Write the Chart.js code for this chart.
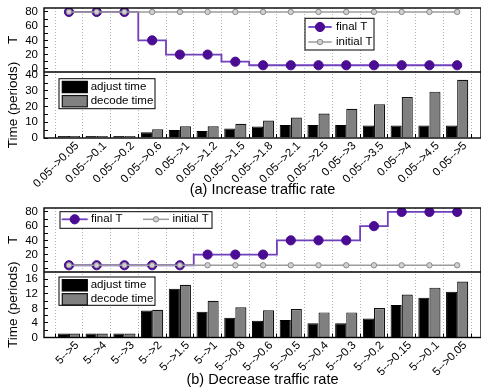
<!DOCTYPE html>
<html>
<head>
<meta charset="utf-8">
<script src="https://cdn.jsdelivr.net/npm/chart.js@4/dist/chart.umd.min.js"></script>
<style>
  html, body { margin: 0; padding: 0; background: #fff; }
  #figure { position: relative; width: 481px; height: 388px; }
  #figure canvas { position: absolute; left: 0; top: 0; }
</style>
</head>
<body>
<div id="figure">
  <canvas id="increase" width="481" height="388"></canvas>
  <canvas id="decrease" width="481" height="388"></canvas>
</div>
<script>
// ---- (a) increasing traffic rate ----
const incCategories = ['0.05-->0.05', '0.05-->0.1', '0.05-->0.2', '0.05-->0.6', '0.05-->1', '0.05-->1.2', '0.05-->1.5',
  '0.05-->1.8', '0.05-->2.1', '0.05-->2.5', '0.05-->3', '0.05-->3.5', '0.05-->4', '0.05-->4.5', '0.05-->5'];
const incFinalT   = [80, 80, 80, 40, 20, 20, 10, 5, 5, 5, 5, 5, 5, 5, 5];
const incInitialT = [80, 80, 80, 80, 80, 80, 80, 80, 80, 80, 80, 80, 80, 80, 80];
const incAdjust   = [1.3, 1.3, 1.3, 3.6, 5.1, 4.5, 6.0, 7.3, 8.3, 8.3, 8.3, 7.9, 7.9, 7.9, 7.9];
const incDecode   = [1.3, 1.3, 1.3, 5.6, 7.5, 7.5, 9.0, 11.1, 13.0, 15.6, 18.6, 21.4, 26.1, 29.5, 37.0];

// ---- (b) decreasing traffic rate ----
const decCategories = ['5-->5', '5-->4', '5-->3', '5-->2', '5-->1.5', '5-->1', '5-->0.8', '5-->0.6', '5-->0.5',
  '5-->0.4', '5-->0.3', '5-->0.2', '5-->0.15', '5-->0.1', '5-->0.05'];
const decFinalT   = [5, 5, 5, 5, 5, 20, 20, 20, 40, 40, 40, 60, 80, 80, 80];
const decInitialT = [5, 5, 5, 5, 5, 5, 5, 5, 5, 5, 5, 5, 5, 5, 5];
const decAdjust   = [1.1, 1.1, 1.1, 7.4, 13.4, 7.1, 5.4, 4.6, 4.8, 3.9, 3.9, 5.2, 8.9, 10.9, 12.6];
const decDecode   = [1.1, 1.1, 1.1, 7.6, 14.5, 10.1, 8.3, 7.5, 7.8, 6.9, 6.9, 8.1, 11.8, 13.7, 15.4];

// ---- tick marks and labelled ticks ----
const tTicks         = [0, 10, 20, 30, 40, 50, 60, 70, 80];
const tTickLabels    = [0, 20, 40, 60, 80];
const incTimeTicks   = [0, 5, 10, 15, 20, 25, 30, 35, 40];
const incTimeLabels  = [0, 10, 20, 30, 40];
const decTimeTicks   = [0, 2, 4, 6, 8, 10, 12, 14, 16];
const decTimeLabels  = [0, 4, 8, 12, 16];

const FONT = '"Liberation Sans", Arial, Helvetica, sans-serif';
Chart.defaults.font.family = FONT;
Chart.defaults.color = '#000';

// Frame around both stacked panels plus the divider between them
const panelFrame = {
  id: 'panelFrame',
  afterDraw(chart) {
    const { ctx, chartArea: a, scales } = chart;
    ctx.save();
    ctx.strokeStyle = '#000';
    ctx.lineWidth = 1.4;
    ctx.strokeRect(a.left, a.top, a.right - a.left, a.bottom - a.top);
    ctx.beginPath();
    ctx.moveTo(a.left, scales.yTime.top);
    ctx.lineTo(a.right, scales.yTime.top);
    ctx.stroke();
    ctx.restore();
  }
};

// One boxed key per panel, placed inside that panel
const panelKeys = {
  id: 'panelKeys',
  afterDraw(chart, args, opts) {
    const { ctx, chartArea } = chart;
    for (const box of opts.boxes) {
      const scale = chart.scales[box.scaleID];
      const x0 = chartArea.left + box.left;
      const y0 = scale.top + box.top;
      ctx.save();
      ctx.fillStyle = '#fff';
      ctx.fillRect(x0, y0, box.width, box.height);
      ctx.strokeStyle = '#000';
      ctx.lineWidth = 1;
      ctx.strokeRect(x0, y0, box.width, box.height);
      ctx.font = '11.5px ' + FONT;
      ctx.textBaseline = 'middle';
      ctx.textAlign = 'left';
      for (const item of box.items) {
        const ds = chart.data.datasets[item.dataset];
        const ix = x0 + item.dx;
        const iy = y0 + item.dy;
        if (ds.type === 'line') {
          ctx.strokeStyle = ds.borderColor;
          ctx.lineWidth = ds.borderWidth;
          ctx.beginPath();
          ctx.moveTo(ix, iy);
          ctx.lineTo(ix + box.sample, iy);
          ctx.stroke();
          ctx.beginPath();
          ctx.arc(ix + box.sample / 2, iy, ds.pointRadius, 0, Math.PI * 2);
          ctx.fillStyle = ds.pointBackgroundColor;
          ctx.fill();
          ctx.lineWidth = ds.pointBorderWidth;
          ctx.strokeStyle = ds.pointBorderColor;
          ctx.stroke();
        } else {
          ctx.fillStyle = ds.backgroundColor;
          ctx.fillRect(ix, iy - box.swatch / 2, box.sample, box.swatch);
          ctx.strokeStyle = ds.borderColor;
          ctx.lineWidth = 1.2;
          ctx.strokeRect(ix, iy - box.swatch / 2, box.sample, box.swatch);
        }
        ctx.fillStyle = '#000';
        ctx.fillText(ds.label, ix + box.sample + box.gap, iy);
      }
      ctx.restore();
    }
  }
};

const points = (values) => values.map((v, i) => ({ x: i, y: v }));

function buildChart(id, s) {
  return new Chart(document.getElementById(id), {
    type: 'line',
    data: {
      datasets: [
        {
          type: 'line', label: 'final T', data: points(s.finalT), yAxisID: 'yT',
          stepped: 'middle', borderColor: '#7040bd', borderWidth: 1.8,
          pointRadius: 4.6, pointBackgroundColor: '#4a0c92', pointBorderColor: '#4a0c92',
          pointBorderWidth: 1, order: 2
        },
        {
          type: 'line', label: 'initial T', data: points(s.initialT), yAxisID: 'yT',
          borderColor: '#9c9c9c', borderWidth: 1.5,
          pointRadius: 2.7, pointBackgroundColor: '#d0d0d0', pointBorderColor: '#8a8a8a',
          pointBorderWidth: 1, order: 1
        },
        {
          type: 'bar', label: 'adjust time', data: points(s.adjust), yAxisID: 'yTime',
          backgroundColor: '#000', borderColor: '#000', borderWidth: 1,
          categoryPercentage: 0.8, barPercentage: 1, order: 3
        },
        {
          type: 'bar', label: 'decode time', data: points(s.decode), yAxisID: 'yTime',
          backgroundColor: '#808080', borderColor: '#111', borderWidth: 1.2,
          categoryPercentage: 0.8, barPercentage: 1, order: 3
        }
      ]
    },
    options: {
      responsive: false,
      animation: false,
      devicePixelRatio: 1,
      events: [],
      layout: { autoPadding: false, padding: { top: s.padTop, bottom: s.padBottom, left: 0, right: 0 } },
      scales: {
        x: {
          type: 'linear', position: 'bottom', min: -0.9, max: 14.86, offset: false,
          afterBuildTicks: (sc) => { sc.ticks = s.cats.map((_, i) => ({ value: i })); },
          afterFit: (sc) => { sc.height = s.xHeight; sc.paddingLeft = 0; sc.paddingRight = 0; },
          ticks: {
            autoSkip: false, minRotation: 45, maxRotation: 45,
            padding: 5, labelOffset: 8,
            font: { size: 11.5 }, color: '#000',
            callback: (v) => s.cats[v]
          },
          grid: {
            drawOnChartArea: true, color: '#b4b4b4', lineWidth: 1,
            drawTicks: true, tickLength: -4, tickColor: '#000', tickWidth: 1, tickBorderDash: []
          },
          border: { display: false, dash: [1, 2] },
          title: {
            display: true, text: s.title, color: '#000',
            font: { size: 14.5, lineHeight: 1 }, padding: { top: 0, bottom: 0 }
          }
        },
        yTime: {
          type: 'linear', position: 'left', stack: 'panels', stackWeight: s.timeWeight,
          min: 0, max: s.timeMax,
          afterBuildTicks: (sc) => { sc.ticks = s.timeTicks.map((v) => ({ value: v })); },
          afterFit: (sc) => { sc.width = 44; sc.paddingTop = 0; sc.paddingBottom = 0; },
          ticks: {
            autoSkip: false, padding: 10, font: { size: 11.5 }, color: '#000',
            callback: (v) => (s.timeLabels.includes(v) ? String(v) : '')
          },
          grid: { drawOnChartArea: false, drawTicks: true, tickLength: -4, tickColor: '#000' },
          border: { display: false },
          title: {
            display: true, text: 'Time (periods)', color: '#000',
            font: { size: 13.5 }, padding: { top: 5, bottom: 0 }
          }
        },
        yT: {
          type: 'linear', position: 'left', stack: 'panels', stackWeight: 64,
          min: -4.5, max: 85.5,
          afterBuildTicks: (sc) => { sc.ticks = tTicks.map((v) => ({ value: v })); },
          afterFit: (sc) => { sc.width = 44; sc.paddingTop = 0; sc.paddingBottom = 0; },
          ticks: {
            autoSkip: false, padding: 10, font: { size: 11.5 }, color: '#000',
            callback: (v) => (tTickLabels.includes(v) ? String(v) : '')
          },
          grid: { drawOnChartArea: false, drawTicks: true, tickLength: -4, tickColor: '#000' },
          border: { display: false },
          title: {
            display: true, text: 'T', color: '#000',
            font: { size: 13.5 }, padding: { top: 5, bottom: 0 }
          }
        }
      },
      plugins: {
        legend: { display: false },
        tooltip: { enabled: false },
        panelKeys: { boxes: s.keys }
      }
    },
    plugins: [panelFrame, panelKeys]
  });
}

buildChart('increase', {
  cats: incCategories, finalT: incFinalT, initialT: incInitialT,
  adjust: incAdjust, decode: incDecode,
  timeTicks: incTimeTicks, timeLabels: incTimeLabels, timeMax: 42, timeWeight: 66,
  title: '(a) Increase traffic rate',
  padTop: 8, padBottom: 190.75, xHeight: 59.25,
  keys: [
    { scaleID: 'yT', left: 261, top: 10.3, width: 69, height: 31.7, sample: 23.4, gap: 4.3,
      items: [{ dataset: 0, dx: 3.3, dy: 8.7 }, { dataset: 1, dx: 3.3, dy: 23.7 }] },
    { scaleID: 'yTime', left: 15, top: 6.7, width: 96, height: 30, sample: 25, swatch: 11.3, gap: 3.4,
      items: [{ dataset: 2, dx: 3.3, dy: 8.3 }, { dataset: 3, dx: 3.3, dy: 22.5 }] }
  ]
});

buildChart('decrease', {
  cats: decCategories, finalT: decFinalT, initialT: decInitialT,
  adjust: decAdjust, decode: decDecode,
  timeTicks: decTimeTicks, timeLabels: decTimeLabels, timeMax: 18, timeWeight: 65.5,
  title: '(b) Decrease traffic rate',
  padTop: 208, padBottom: 0.75, xHeight: 49.75,
  keys: [
    { scaleID: 'yT', left: 16, top: 3.7, width: 152, height: 16.6, sample: 26, gap: 3.4,
      items: [{ dataset: 0, dx: 1.7, dy: 7.6 }, { dataset: 1, dx: 83, dy: 7.6 }] },
    { scaleID: 'yTime', left: 15, top: 5, width: 96, height: 28.3, sample: 25, swatch: 11.3, gap: 3.4,
      items: [{ dataset: 2, dx: 3.3, dy: 8.3 }, { dataset: 3, dx: 3.3, dy: 22.3 }] }
  ]
});
</script>
</body>
</html>
